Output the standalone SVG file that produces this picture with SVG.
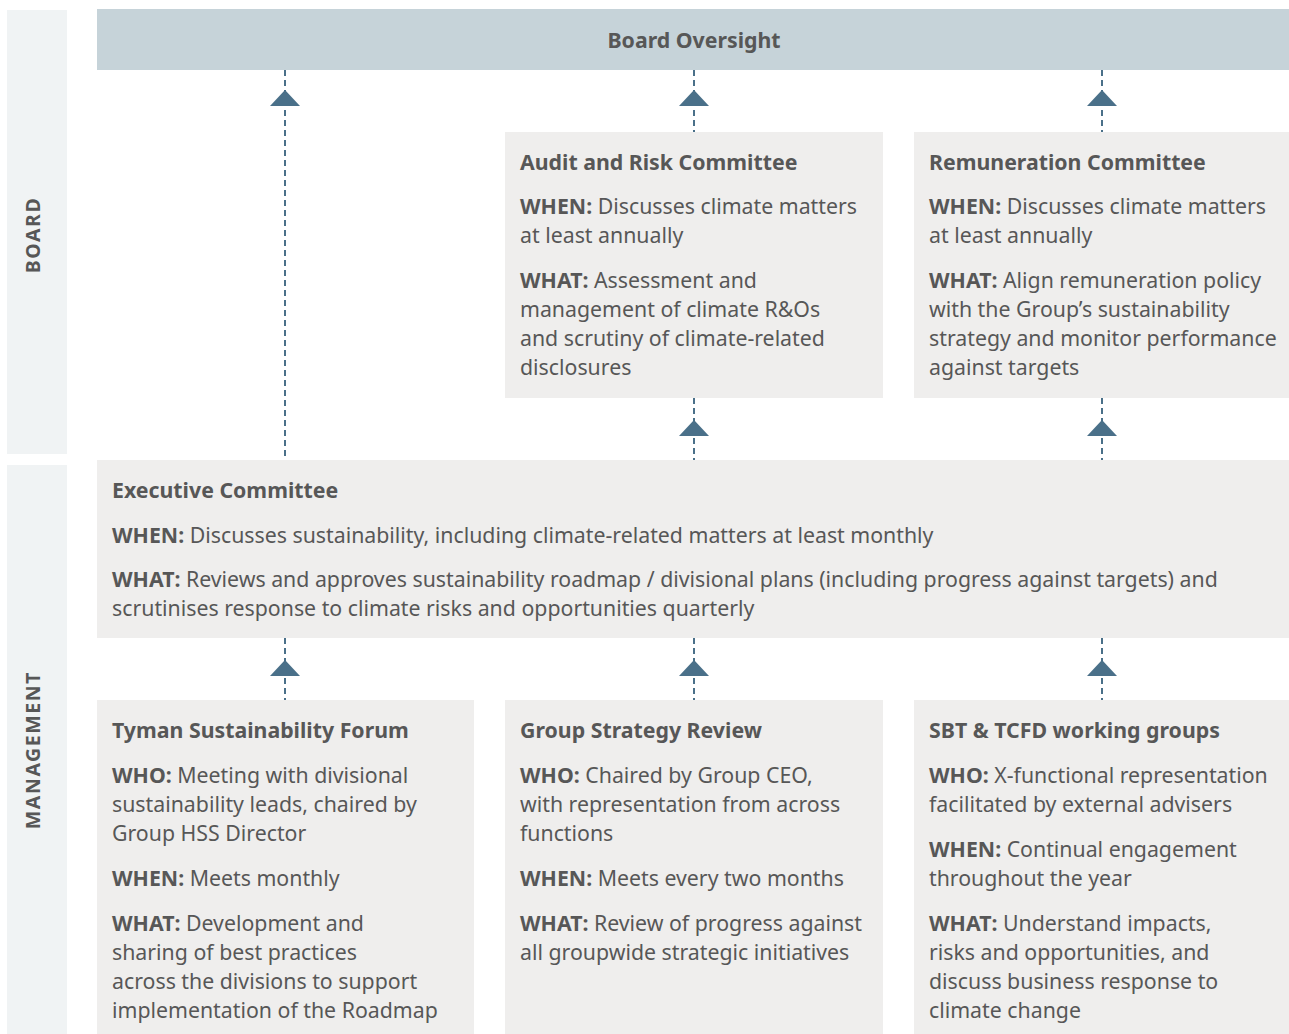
<svg xmlns="http://www.w3.org/2000/svg" width="1289" height="1034" viewBox="0 0 1289 1034">
<style>
text{font-family:"Noto Sans","Open Sans","Liberation Sans",sans-serif;fill:#575757;font-size:21.3px}
.t{font-weight:bold}
.b{font-weight:bold}
.band{fill:#f0f3f4}
.box{fill:#efeeed}
.con line{stroke:#4a7089;stroke-width:2;stroke-dasharray:6 4}
.con path{fill:#4a7089}
.side{font-weight:bold;font-size:19.5px;letter-spacing:1.6px}
</style>
<rect class="band" x="7" y="10" width="60" height="444"/>
<rect class="band" x="7" y="465" width="60" height="569"/>
<text class="side" transform="translate(40,235) rotate(-90)" text-anchor="middle">BOARD</text>
<text class="side" transform="translate(40,750) rotate(-90)" text-anchor="middle">MANAGEMENT</text>

<g id="board-oversight">
<rect x="97" y="9" width="1192" height="61" fill="#c6d3d9"/>
<text class="t" x="694" y="48" text-anchor="middle">Board Oversight</text>
</g>

<g class="con" id="connectors">
<line x1="285" y1="70" x2="285" y2="460"/>
<line x1="694" y1="70" x2="694" y2="132"/>
<line x1="1102" y1="70" x2="1102" y2="132"/>
<line x1="694" y1="398" x2="694" y2="460"/>
<line x1="1102" y1="398" x2="1102" y2="460"/>
<line x1="285" y1="638" x2="285" y2="700"/>
<line x1="694" y1="638" x2="694" y2="700"/>
<line x1="1102" y1="638" x2="1102" y2="700"/>
<path d="M285 90 L300 106 L270 106 Z"/>
<path d="M694 90 L709 106 L679 106 Z"/>
<path d="M1102 90 L1117 106 L1087 106 Z"/>
<path d="M694 420 L709 436 L679 436 Z"/>
<path d="M1102 420 L1117 436 L1087 436 Z"/>
<path d="M285 660 L300 676 L270 676 Z"/>
<path d="M694 660 L709 676 L679 676 Z"/>
<path d="M1102 660 L1117 676 L1087 676 Z"/>
</g>

<g id="audit">
<rect class="box" x="505" y="132" width="378" height="266"/>
<text class="t" x="520" y="170">Audit and Risk Committee</text>
<text x="520" y="214"><tspan class="b">WHEN:</tspan> Discusses climate matters</text>
<text x="520" y="243">at least annually</text>
<text x="520" y="288"><tspan class="b">WHAT:</tspan> Assessment and</text>
<text x="520" y="317">management of climate R&amp;Os</text>
<text x="520" y="346">and scrutiny of climate-related</text>
<text x="520" y="375">disclosures</text>
</g>

<g id="remuneration">
<rect class="box" x="914" y="132" width="375" height="266"/>
<text class="t" x="929" y="170">Remuneration Committee</text>
<text x="929" y="214"><tspan class="b">WHEN:</tspan> Discusses climate matters</text>
<text x="929" y="243">at least annually</text>
<text x="929" y="288"><tspan class="b">WHAT:</tspan> Align remuneration policy</text>
<text x="929" y="317">with the Group’s sustainability</text>
<text x="929" y="346">strategy and monitor performance</text>
<text x="929" y="375">against targets</text>
</g>

<g id="executive">
<rect class="box" x="97" y="460" width="1192" height="178"/>
<text class="t" x="112" y="498">Executive Committee</text>
<text x="112" y="543"><tspan class="b">WHEN:</tspan> Discusses sustainability, including climate-related matters at least monthly</text>
<text x="112" y="587"><tspan class="b">WHAT:</tspan> Reviews and approves sustainability roadmap / divisional plans (including progress against targets) and</text>
<text x="112" y="616">scrutinises response to climate risks and opportunities quarterly</text>
</g>

<g id="forum">
<rect class="box" x="97" y="700" width="377" height="334"/>
<text class="t" x="112" y="738">Tyman Sustainability Forum</text>
<text x="112" y="783"><tspan class="b">WHO:</tspan> Meeting with divisional</text>
<text x="112" y="812">sustainability leads, chaired by</text>
<text x="112" y="841">Group HSS Director</text>
<text x="112" y="886"><tspan class="b">WHEN:</tspan> Meets monthly</text>
<text x="112" y="931"><tspan class="b">WHAT:</tspan> Development and</text>
<text x="112" y="960">sharing of best practices</text>
<text x="112" y="989">across the divisions to support</text>
<text x="112" y="1018">implementation of the Roadmap</text>
</g>

<g id="strategy">
<rect class="box" x="505" y="700" width="378" height="334"/>
<text class="t" x="520" y="738">Group Strategy Review</text>
<text x="520" y="783"><tspan class="b">WHO:</tspan> Chaired by Group CEO,</text>
<text x="520" y="812">with representation from across</text>
<text x="520" y="841">functions</text>
<text x="520" y="886"><tspan class="b">WHEN:</tspan> Meets every two months</text>
<text x="520" y="931"><tspan class="b">WHAT:</tspan> Review of progress against</text>
<text x="520" y="960">all groupwide strategic initiatives</text>
</g>

<g id="sbt">
<rect class="box" x="914" y="700" width="375" height="334"/>
<text class="t" x="929" y="738">SBT &amp; TCFD working groups</text>
<text x="929" y="783"><tspan class="b">WHO:</tspan> X-functional representation</text>
<text x="929" y="812">facilitated by external advisers</text>
<text x="929" y="857"><tspan class="b">WHEN:</tspan> Continual engagement</text>
<text x="929" y="886">throughout the year</text>
<text x="929" y="931"><tspan class="b">WHAT:</tspan> Understand impacts,</text>
<text x="929" y="960">risks and opportunities, and</text>
<text x="929" y="989">discuss business response to</text>
<text x="929" y="1018">climate change</text>
</g>
</svg>
